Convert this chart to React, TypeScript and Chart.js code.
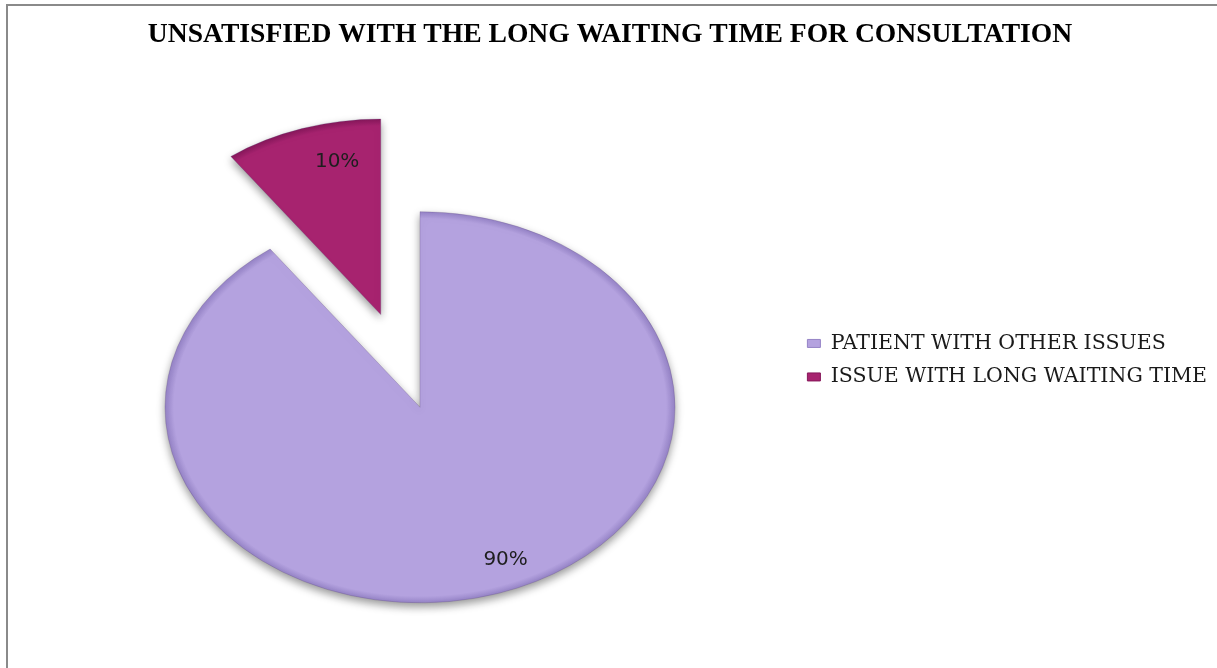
import React, { useEffect, useRef } from 'react';
import { Chart, registerables } from 'chart.js';

Chart.register(...registerables);

const TITLE = 'UNSATISFIED WITH THE LONG WAITING TIME FOR CONSULTATION';
const categories = ['PATIENT WITH OTHER ISSUES', 'ISSUE WITH LONG WAITING TIME'];
const values = [90, 10];
const valueLabels = ['90%', '10%'];

const SLICE_COLORS = ['#B4A2DF', '#A7236F'];
const SLICE_EDGES = ['#9583C6', '#86175A'];

export default function App() {
  const ref = useRef<HTMLCanvasElement>(null);

  useEffect(() => {
    const canvas = ref.current as HTMLCanvasElement;
    const RADIUS = 255;
    const SQUASH = 0.767;

    const frame = {
      id: 'frame',
      beforeDraw(chart: any) {
        const { ctx, width, height } = chart;
        ctx.save();
        ctx.fillStyle = '#ffffff';
        ctx.fillRect(0, 0, width, height);
        ctx.fillStyle = '#8a8a8a';
        ctx.fillRect(6, 4, width - 6, 2);
        ctx.fillRect(6, 4, 2, height - 4);
        ctx.restore();
      },
    };

    // Draws the pie as a tilted (elliptical) pie with an exploded slice.
    const ellipsePie = {
      id: 'ellipsePie',
      beforeDatasetDraw(chart: any, args: any, opts: any) {
        const { ctx, chartArea } = chart;
        const cy = (chartArea.top + chartArea.bottom) / 2;
        ctx.save();
        ctx.translate(opts.shiftX, cy);
        ctx.scale(1, opts.squash);
        ctx.translate(0, -cy);
        args.meta.data.forEach((arc: any, i: number) => {
          const { startAngle, endAngle } = arc.getProps(['startAngle', 'endAngle'], true);
          const mid = (startAngle + endAngle) / 2;
          const d = (opts.explode && opts.explode[i]) || 0;
          ctx.save();
          ctx.translate(Math.cos(mid) * d, Math.sin(mid) * d);
          ctx.shadowColor = 'rgba(0,0,0,0.4)';
          ctx.shadowBlur = 9;
          ctx.shadowOffsetY = 4;
          arc.draw(ctx);
          ctx.restore();
        });
        ctx.restore();
        ctx.save();
        ctx.font = '20px "DejaVu Sans"';
        ctx.fillStyle = '#1e1e1e';
        ctx.textAlign = 'center';
        ctx.textBaseline = 'middle';
        args.meta.data.forEach((arc: any, i: number) => {
          const { x, y, startAngle, endAngle, outerRadius } = arc.getProps(
            ['x', 'y', 'startAngle', 'endAngle', 'outerRadius'],
            true
          );
          const mid = (startAngle + endAngle) / 2;
          const d = (opts.explode && opts.explode[i]) || 0;
          const r = outerRadius * opts.labelAt + d;
          const px = x + Math.cos(mid) * r + opts.shiftX + opts.labelShiftX;
          const py = cy + (y + Math.sin(mid) * r - cy) * opts.squash;
          ctx.fillText(valueLabels[i], px, py);
        });
        ctx.restore();
        return false;
      },
    };

    const gradientFill = (c: any) => {
      const base = SLICE_COLORS[c.dataIndex];
      const chart = c.chart;
      const area = chart.chartArea;
      if (!area) return base;
      const cx = (area.left + area.right) / 2;
      const cy = (area.top + area.bottom) / 2;
      const g = chart.ctx.createRadialGradient(cx, cy, 0, cx, cy, RADIUS);
      g.addColorStop(0, base);
      g.addColorStop(0.965, base);
      g.addColorStop(1, SLICE_EDGES[c.dataIndex]);
      return g;
    };

    const chart = new Chart(canvas, {
      type: 'pie',
      data: {
        labels: categories,
        datasets: [
          {
            data: values,
            backgroundColor: gradientFill,
            borderColor: 'rgba(90,70,120,0.3)',
            borderWidth: 1,
            radius: RADIUS,
            clip: false,
          } as any,
        ],
      },
      plugins: [frame, ellipsePie],
      options: {
        responsive: false,
        animation: false,
        events: [],
        layout: { padding: { left: 3, right: 0, top: 0, bottom: 0 } },
        plugins: {
          title: {
            display: true,
            text: TITLE,
            color: '#000000',
            font: { family: '"Liberation Serif"', size: 27.6, weight: 'bold', lineHeight: 1.2 },
            padding: { top: 18, bottom: 95.4 },
          },
          legend: {
            display: true,
            position: 'right',
            align: 'start',
            title: {
              display: true,
              text: ' ',
              font: { size: 10, lineHeight: 1.2 },
              padding: 154.1,
            },
            labels: {
              boxWidth: 13,
              boxHeight: 8,
              padding: 13,
              color: '#1a1a1a',
              font: { family: '"DejaVu Serif"', size: 20.5 },
              generateLabels: (ch: any) => {
                const items = (Chart as any).overrides.pie.plugins.legend.labels.generateLabels(ch);
                return items.map((it: any, i: number) => ({
                  ...it,
                  fillStyle: SLICE_COLORS[i],
                  strokeStyle: SLICE_EDGES[i],
                  lineWidth: 1,
                }));
              },
            },
          },
          tooltip: { enabled: false },
          ellipsePie: { squash: SQUASH, explode: [0, 127], labelAt: 0.82, labelShiftX: 21, shiftX: 21.3 },
        } as any,
      },
    });
    return () => chart.destroy();
  }, []);

  return (
    <div style={{ position: 'fixed', left: 0, top: 0, width: 1217, height: 668, background: '#fff' }}>
      <canvas ref={ref} width={1217} height={668} style={{ display: 'block', width: 1217, height: 668 }} />
    </div>
  );
}
